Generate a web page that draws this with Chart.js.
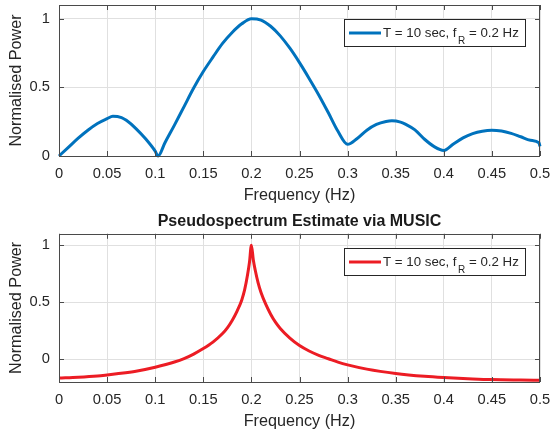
<!DOCTYPE html>
<html>
<head>
<meta charset="utf-8">
<script src="https://cdn.jsdelivr.net/npm/chart.js@4.4.1/dist/chart.umd.min.js"></script>
<style>
    html, body { margin: 0; padding: 0; background: #fff; }
    #wrap { position: relative; width: 550px; height: 433px; overflow: hidden; }
    #wrap canvas { position: absolute; left: 0; }
    #periodogram-chart { top: 0; }
    #music-chart { top: 200px; }
</style>
</head>
<body>
<div id="wrap">
    <canvas id="periodogram-chart" width="550" height="210"></canvas>
    <canvas id="music-chart" width="550" height="233"></canvas>
</div>
<script>
// Tick positions
const freqTicks = [0, 0.05, 0.1, 0.15, 0.2, 0.25, 0.3, 0.35, 0.4, 0.45, 0.5];
const powerTicks = [0, 0.5, 1];

// Atas: periodogram (dinormalisasi)
const freqTop = [0, 0.01, 0.02, 0.03, 0.04, 0.05, 0.056, 0.065, 0.07, 0.08, 0.09, 0.1, 0.103,
    0.11, 0.12, 0.13, 0.14, 0.15, 0.16, 0.17, 0.18, 0.19, 0.2, 0.21, 0.22, 0.23, 0.24, 0.25,
    0.26, 0.27, 0.28, 0.29, 0.3, 0.31, 0.32, 0.33, 0.34, 0.346, 0.355, 0.36, 0.37, 0.38, 0.39, 0.4,
    0.41, 0.42, 0.43, 0.44, 0.45, 0.46, 0.47, 0.48, 0.49, 0.499, 0.5];
const powerTop = [0, 0.065, 0.13, 0.188, 0.237, 0.272, 0.29, 0.28, 0.26, 0.2, 0.125, 0.035, 0,
    0.095, 0.225, 0.36, 0.495, 0.615, 0.72, 0.82, 0.9, 0.963, 1.0, 0.99, 0.945, 0.875, 0.785, 0.68,
    0.565, 0.445, 0.315, 0.18, 0.085, 0.128, 0.188, 0.23, 0.251, 0.256, 0.247, 0.232, 0.19, 0.122, 0.068, 0.04,
    0.087, 0.132, 0.163, 0.181, 0.188, 0.182, 0.165, 0.14, 0.115, 0.095, 0.07];

// Bawah: pseudospectrum MUSIC
const freqMusic = [0, 0.02, 0.04, 0.05, 0.06, 0.08, 0.1, 0.12, 0.13, 0.14, 0.15, 0.16, 0.17,
    0.175, 0.18, 0.185, 0.19, 0.193, 0.196, 0.198, 0.2, 0.202, 0.204, 0.207, 0.21, 0.215, 0.22,
    0.225, 0.23, 0.24, 0.25, 0.26, 0.27, 0.28, 0.29, 0.3, 0.32, 0.35, 0.38, 0.4, 0.43, 0.45, 0.48, 0.5];
const powerMusic = [-0.165, -0.158, -0.147, -0.138, -0.128, -0.105, -0.07, -0.025, 0.005, 0.045, 0.093, 0.15, 0.225,
    0.275, 0.34, 0.42, 0.52, 0.61, 0.74, 0.85, 1.0, 0.87, 0.78, 0.67, 0.585, 0.48, 0.395,
    0.325, 0.27, 0.185, 0.12, 0.072, 0.034, 0.004, -0.026, -0.05, -0.087, -0.125, -0.15, -0.161, -0.173, -0.179, -0.183, -0.185];

const legendLabel = ['T = 10 sec, f', 'R', ' = 0.2 Hz'];

const FONT = "'Liberation Sans', Arial, Helvetica, sans-serif";
const TXT = '#262626';
const AXIS = '#4a4a4a';
const GRID = '#e0e0e0';
const blue = '#0072bd';
const red = '#ec1c24';

// kotak sumbu, tick ke dalam, dan legenda ala MATLAB
const matlabAxes = {
    id: 'matlabAxes',
    afterDraw(chart, args, opts) {
        const { ctx, chartArea: a, scales } = chart;
        ctx.save();
        ctx.strokeStyle = AXIS;
        ctx.lineWidth = 1;
        ctx.beginPath();
        scales.x.ticks.forEach(t => {
            const px = Math.round(scales.x.getPixelForValue(t.value)) + 0.5;
            ctx.moveTo(px, a.bottom); ctx.lineTo(px, a.bottom - 5);
            ctx.moveTo(px, a.top); ctx.lineTo(px, a.top + 5);
        });
        scales.y.ticks.forEach(t => {
            const py = Math.round(scales.y.getPixelForValue(t.value)) + 0.5;
            ctx.moveTo(a.left, py); ctx.lineTo(a.left + 5, py);
            ctx.moveTo(a.right, py); ctx.lineTo(a.right - 5, py);
        });
        ctx.stroke();
        ctx.strokeRect(Math.round(a.left) + 0.5, Math.round(a.top) + 0.5,
            Math.round(a.width) - 1, Math.round(a.height));

        // legenda
        const boxW = 181, boxH = 27;
        const bx = Math.round(a.right - 15 - boxW), by = Math.round(a.top + 14);
        ctx.fillStyle = '#fff';
        ctx.fillRect(bx, by, boxW, boxH);
        ctx.strokeStyle = TXT;
        ctx.strokeRect(bx + 0.5, by + 0.5, boxW, boxH);
        const cy = by + boxH / 2 + 0.5;
        ctx.strokeStyle = opts.color;
        ctx.lineWidth = 3;
        ctx.beginPath();
        ctx.moveTo(bx + 5, cy); ctx.lineTo(bx + 37, cy);
        ctx.stroke();

        ctx.fillStyle = TXT;
        ctx.textBaseline = 'middle';
        ctx.textAlign = 'left';
        let tx = bx + 39;
        ctx.font = '13.3px ' + FONT;
        ctx.fillText(legendLabel[0], tx, cy);
        tx += ctx.measureText(legendLabel[0]).width + 1.5;
        ctx.font = '10px ' + FONT;
        ctx.fillText(legendLabel[1], tx, cy + 8);
        tx += ctx.measureText(legendLabel[1]).width;
        ctx.font = '13.3px ' + FONT;
        ctx.fillText(legendLabel[2], tx, cy);
        ctx.restore();
    }
};

function toPoints(xs, ys) {
    return xs.map((f, i) => ({ x: f, y: ys[i] }));
}

function buildChart(canvasId, xs, ys, color, cfg) {
    return new Chart(document.getElementById(canvasId), {
        type: 'line',
        data: {
            datasets: [{
                data: toPoints(xs, ys),
                borderColor: color,
                borderWidth: 3,
                pointRadius: 0,
                fill: false,
                cubicInterpolationMode: 'monotone',
                clip: 4
            }]
        },
        options: {
            responsive: false,
            animation: false,
            events: [],
            layout: { padding: { top: cfg.padTop, right: 10, left: 0, bottom: 0 } },
            plugins: {
                legend: { display: false },
                tooltip: { enabled: false },
                title: cfg.title,
                matlabAxes: { color: color }
            },
            scales: {
                x: {
                    type: 'linear',
                    min: 0,
                    max: 0.5,
                    afterBuildTicks: s => { s.ticks = freqTicks.map(v => ({ value: v })); },
                    afterFit: s => { s.height = cfg.xHeight; s.paddingLeft = 0; s.paddingRight = 0; },
                    grid: { color: GRID, drawTicks: false },
                    border: { display: false },
                    ticks: {
                        padding: 9.2, color: TXT, autoSkip: false, maxRotation: 0,
                        font: { family: FONT, size: 14.7 },
                        callback: v => String(v)
                    },
                    title: {
                        display: true, text: 'Frequency (Hz)', color: TXT,
                        font: { family: FONT, size: 16.2 },
                        padding: { top: 0, bottom: cfg.xTitlePad }
                    }
                },
                y: {
                    min: cfg.yMin,
                    max: 1.1,
                    afterBuildTicks: s => { s.ticks = powerTicks.map(v => ({ value: v })); },
                    afterFit: s => { s.width = 59; s.paddingTop = 0; s.paddingBottom = 0; },
                    grid: { color: GRID, drawTicks: false },
                    border: { display: false },
                    ticks: {
                        padding: 9, color: TXT,
                        font: { family: FONT, size: 14.7 },
                        callback: v => String(v)
                    },
                    title: {
                        display: true, text: 'Normalised Power', color: TXT,
                        font: { family: FONT, size: 16.2 },
                        padding: { top: 7.3, bottom: 0 }
                    }
                }
            }
        },
        plugins: [matlabAxes]
    });
}

var periodogramChart = buildChart('periodogram-chart', freqTop, powerTop, blue, {
    padTop: 5, xHeight: 54, xTitlePad: 5, yMin: 0,
    title: { display: false }
});

var musicChart = buildChart('music-chart', freqMusic, powerMusic, red, {
    padTop: 0, xHeight: 51, xTitlePad: 1.5, yMin: -0.2,
    title: {
        display: true,
        text: 'Pseudospectrum Estimate via MUSIC',
        color: '#1a1a1a',
        fullSize: false,
        font: { family: FONT, size: 16, weight: 'bold' },
        padding: { top: 12, bottom: 2.6 }
    }
});
</script>
</body>
</html>
